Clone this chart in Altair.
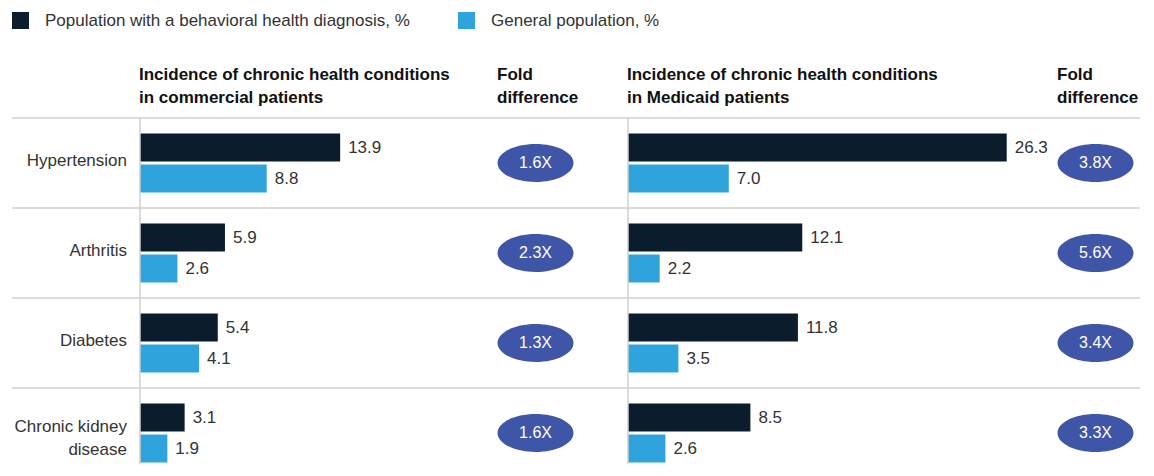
import altair as alt
import pandas as pd

FONT = "Liberation Sans"

conditions = ["Hypertension", "Arthritis", "Diabetes", "Chronic kidney disease"]
condition_labels = ["Hypertension", "Arthritis", "Diabetes", "Chronic kidney\ndisease"]
groups = ["Population with a behavioral health diagnosis, %", "General population, %"]
commercial_bh = [13.9, 5.9, 5.4, 3.1]
commercial_gen = [8.8, 2.6, 4.1, 1.9]
medicaid_bh = [26.3, 12.1, 11.8, 8.5]
medicaid_gen = [7.0, 2.2, 3.5, 2.6]
fold_commercial = ["1.6X", "2.3X", "1.3X", "1.6X"]
fold_medicaid = ["3.8X", "5.6X", "3.4X", "3.3X"]
colors = ["#0b1c2c", "#2fa3dc"]
ellipse_color = "#3f56a8"

PLOT_H = 346
ROW_RANGE = [0, 360]
PX_PER_UNIT = 14.4

ELLIPSE = "M-1,0 A1,0.5 0 1,1 1,0 A1,0.5 0 1,1 -1,0 Z"


def y_enc(band_position=None):
    kw = {}
    if band_position is not None:
        kw["bandPosition"] = band_position
    return alt.Y(
        "condition:N",
        sort=conditions,
        scale=alt.Scale(domain=conditions, range=ROW_RANGE, paddingInner=0, paddingOuter=0),
        axis=None,
        **kw,
    )


def separators(x_start, x_end):
    df = pd.DataFrame({"condition": conditions})
    return alt.Chart(df).mark_rule(color="#dcdcdc", strokeWidth=2).encode(
        y=y_enc(0), x=alt.value(x_start), x2=alt.value(x_end)
    )


def long_df(bh, gen):
    rows = []
    for c, a, b in zip(conditions, bh, gen):
        rows.append({"condition": c, "group": groups[0], "value": a})
        rows.append({"condition": c, "group": groups[1], "value": b})
    return pd.DataFrame(rows)


legend = alt.Legend(orient="none", legendX=4, legendY=-106, direction="horizontal", title=None,
                    symbolType="square", symbolSize=289, symbolStrokeWidth=0,
                    labelFontSize=17, labelColor="#333333", labelFont=FONT,
                    labelOffset=16, columnPadding=48, labelLimit=0)


def bar_panel(bh, gen, title, width):
    df = long_df(bh, gen)
    xmax = width / PX_PER_UNIT
    base = alt.Chart(df).encode(
        y=y_enc(),
        yOffset=alt.YOffset("group:N", sort=groups,
                            scale=alt.Scale(domain=groups, paddingInner=3 / 31, paddingOuter=0.5)),
        x=alt.X("value:Q", scale=alt.Scale(domain=[0, xmax], nice=False, zero=True), axis=None),
    )
    bars = base.mark_bar().encode(
        color=alt.Color("group:N", scale=alt.Scale(domain=groups, range=colors), legend=legend)
    )
    labels = base.mark_text(align="left", baseline="middle", dx=8, fontSize=17,
                            color="#333333", font=FONT).encode(text=alt.Text("value:Q", format=".1f"))
    vline = alt.Chart(pd.DataFrame({"v": [0]})).mark_rule(color="#cfcfcf", strokeWidth=1.5).encode(
        x=alt.value(0), y=alt.value(0), y2=alt.value(PLOT_H)
    )
    return alt.layer(separators(0, width), bars, labels, vline).properties(
        width=width, height=PLOT_H, title=alt.TitleParams(text=title)
    )


def fold_panel(folds, width, line_end):
    df = pd.DataFrame({"condition": conditions, "fold": folds})
    base = alt.Chart(df).encode(y=y_enc())
    ell = base.mark_point(shape=ELLIPSE, size=5776, filled=True, color=ellipse_color,
                          opacity=1, strokeWidth=0).encode(x=alt.value(37.5))
    txt = base.mark_text(color="white", fontSize=16, font=FONT, baseline="middle").encode(
        x=alt.value(37.5), text="fold:N")
    return alt.layer(separators(0, line_end), ell, txt).properties(
        width=width, height=PLOT_H, title=alt.TitleParams(text=["Fold", "difference"])
    )


label_df = pd.DataFrame({"condition": conditions, "label": condition_labels})
single_df = label_df[~label_df["label"].str.contains("\n")]
multi_df = label_df[label_df["label"].str.contains("\n")]
label_single = alt.Chart(single_df).mark_text(
    align="right", baseline="middle", fontSize=17, color="#333333", font=FONT, dy=-2
).encode(y=y_enc(), x=alt.value(119), text="label:N")
label_multi = alt.Chart(multi_df).mark_text(
    align="right", baseline="middle", fontSize=17, color="#333333", font=FONT,
    lineBreak="\n", lineHeight=23, dy=-6
).encode(y=y_enc(), x=alt.value(119), text="label:N")
label_col = alt.layer(separators(4, 132), label_single, label_multi).properties(
    width=132, height=PLOT_H, title=alt.TitleParams(text=["\u00a0", "\u00a0"])
)

left_bars = bar_panel(commercial_bh, commercial_gen,
                      ["Incidence of chronic health conditions", "in commercial patients"], 358)
right_bars = bar_panel(medicaid_bh, medicaid_gen,
                       ["Incidence of chronic health conditions", "in Medicaid patients"], 430)

chart = alt.hconcat(
    label_col, left_bars, fold_panel(fold_commercial, 130, 130), right_bars,
    fold_panel(fold_medicaid, 82, 82),
    spacing=0, bounds="flush",
).resolve_scale(color="shared").properties(
    padding={"left": 0, "top": 4, "right": 0, "bottom": 0}
).configure_view(stroke=None).configure_axis(minExtent=0).configure_title(
    anchor="start", fontSize=17, fontWeight="bold", color="#111111", font=FONT,
    lineHeight=23, offset=10
).configure_concat(spacing=0)

chart.save("out.html", embed_options={"renderer": "svg", "actions": False})
